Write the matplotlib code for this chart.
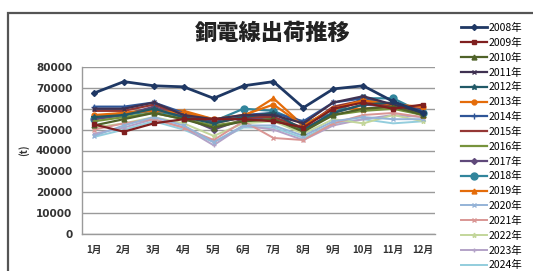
import matplotlib
matplotlib.use("Agg")
import matplotlib.pyplot as plt
from matplotlib.patches import Rectangle
import numpy as np

plt.rcParams['font.family'] = ['Noto Sans CJK JP', 'DejaVu Sans']

months = ["1月", "2月", "3月", "4月", "5月", "6月", "7月", "8月", "9月", "10月", "11月", "12月"]
years = ["2008年", "2009年", "2010年", "2011年", "2012年", "2013年", "2014年", "2015年", "2016年",
         "2017年", "2018年", "2019年", "2020年", "2021年", "2022年", "2023年", "2024年"]

y2008 = [67500, 73000, 71000, 70500, 65000, 71000, 73000, 60500, 69500, 71000, 63500, 58000]
y2009 = [52500, 49000, 53000, 55000, 55000, 55000, 54000, 51000, 60000, 63000, 60000, 62000]
y2010 = [52000, 55000, 58000, 55000, 51000, 54000, 55000, 49000, 57000, 60000, 61000, 57000]
y2011 = [60000, 60000, 63000, 57000, 55000, 57000, 57000, 53000, 63000, 66000, 62000, 58000]
y2012 = [56000, 57000, 60000, 56000, 53000, 56000, 58000, 50000, 58000, 62000, 63000, 58000]
y2013 = [57000, 58000, 59000, 58000, 55000, 57000, 62000, 52000, 60000, 64000, 62000, 61000]
y2014 = [61000, 61000, 63000, 58000, 54000, 57000, 58000, 54000, 63000, 65000, 62000, 59000]
y2015 = [59000, 59000, 62000, 57000, 53000, 56000, 56000, 51000, 61000, 64000, 61000, 60000]
y2016 = [54000, 56000, 58000, 55000, 52000, 54000, 55000, 50000, 57000, 59000, 60000, 57000]
y2017 = [55000, 57000, 61000, 56000, 50000, 55000, 56000, 50000, 58000, 62000, 61000, 58000]
y2018 = [55000, 57000, 59000, 56000, 54000, 60000, 59000, 53000, 58000, 65000, 65000, 58000]
y2019 = [56000, 58000, 60000, 59000, 55000, 56000, 65000, 52000, 60000, 60000, 61000, 57000]
y2020 = [47000, 52000, 56000, 52000, 44000, 52000, 52000, 47000, 54000, 56000, 55000, 55000]
y2021 = [50000, 53000, 55000, 51000, 45000, 54000, 46000, 45000, 53000, 57000, 58000, 56000]
y2022 = [51000, 53000, 56000, 53000, 47000, 53000, 54000, 48000, 55000, 53000, 57000, 54000]
y2023 = [48000, 51000, 55000, 51000, 42500, 52000, 50000, 45000, 52000, 55000, 57000, 56000]
y2024 = [46500, 50000, 54000, 50000, 44000, 51000, 51000, 46000, 53000, 55000, 53000, 54000]

series = [y2008, y2009, y2010, y2011, y2012, y2013, y2014, y2015, y2016,
          y2017, y2018, y2019, y2020, y2021, y2022, y2023, y2024]

colors = ["#1F3864", "#7F1F1F", "#4F6228", "#3F3151", "#215967", "#E46C0A", "#2E5597", "#953735",
          "#77933C", "#5F497A", "#31859C", "#E46C0A", "#95B3D7", "#D99694", "#C3D69B", "#B3A2C7", "#93CDDD"]
markers = ["D", "s", "^", "x", "*", "o", "+", None, None, "D", "o", "^", "x", "x", "*", "+", None]
msizes = [3, 3.5, 3.5, 3, 4, 3.5, 4, 0, 0, 3, 5, 3.5, 3, 3, 3.5, 3.5, 0]
widths = [2.0, 1.6, 1.6, 1.6, 1.6, 1.6, 1.6, 1.6, 1.6, 1.6, 1.6, 1.6, 1.4, 1.4, 1.4, 1.4, 1.4]

fig = plt.figure(figsize=(5.33, 2.71), dpi=100)
fig.patch.set_facecolor("white")

# outer chart border
fig.add_artist(Rectangle((8 / 533, -0.1), 1.2, 1 - 13 / 271 + 0.1, transform=fig.transFigure,
                         fill=False, edgecolor="#555555", linewidth=1.6))

ax = fig.add_axes([82 / 533, 1 - 234 / 271, (435 - 82) / 533, (234 - 67) / 271])
x = np.arange(len(months))
handles = []
for i, (s, c, m, ms, lw) in enumerate(zip(series, colors, markers, msizes, widths)):
    h, = ax.plot(x, s, color=c, marker=m, markersize=ms, linewidth=lw, label=years[i],
                 markeredgecolor=c, markerfacecolor=c, zorder=3 + (17 - i) * 0.01 if i else 5)
    handles.append(h)

ax.set_ylim(0, 80000)
ax.set_xlim(-0.4, 11.4)
ax.set_yticks(np.arange(0, 80001, 10000))
ax.set_xticks(x)
ax.set_xticklabels(months, fontsize=7, fontweight="bold", color="#333333")
ax.set_yticklabels([str(v) for v in range(0, 80001, 10000)],
                   fontsize=7.5, fontweight="bold", color="#333333", family="DejaVu Sans")
ax.tick_params(axis="y", length=0, pad=7)
ax.tick_params(axis="x", length=0, pad=8)
ax.grid(axis="y", color="#9a9a9a", linewidth=1.0)
ax.set_axisbelow(True)
for sp in ["top", "right"]:
    ax.spines[sp].set_visible(False)
ax.spines["left"].set_color("#9a9a9a")
ax.spines["bottom"].set_color("#9a9a9a")
ax.spines["left"].set_linewidth(1.0)
ax.spines["bottom"].set_linewidth(1.0)
ax.set_ylabel("(t)", fontsize=7, fontweight="bold", labelpad=5, color="#333333")

fig.text(273 / 533, 1 - 33 / 271, "銅電線出荷推移", ha="center", va="center",
         fontsize=16, fontweight="heavy", color="#222222")

fig.legend(handles=handles, loc="upper left", bbox_to_anchor=(461 / 533, 1 - 23 / 271),
           frameon=False, fontsize=7.5, handlelength=2.5, handletextpad=0.1,
           labelspacing=0.455, borderaxespad=0, borderpad=0)

fig.savefig("out.png", dpi=100)
